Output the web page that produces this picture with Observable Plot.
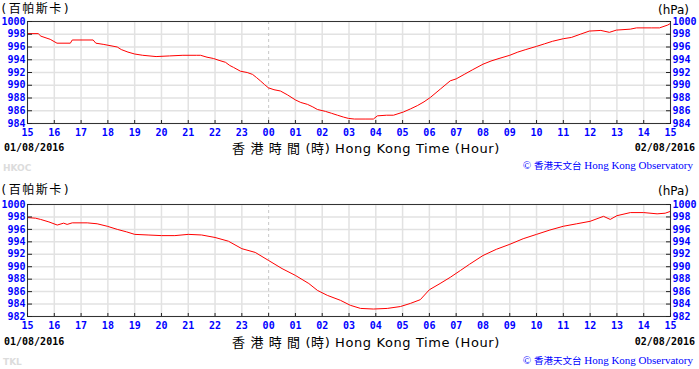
<!DOCTYPE html>
<html><head><meta charset="utf-8">
<script src="https://cdn.jsdelivr.net/npm/d3@7"></script>
<script src="https://cdn.jsdelivr.net/npm/@observablehq/plot@0.6"></script>
<style>
body{margin:0;background:#fff;}
#wrap{position:relative;width:699px;height:369px;overflow:hidden;background:#fff;}
.t{position:absolute;white-space:nowrap;line-height:1;transform:translateY(-50%);}
.unitzh{font-family:"DejaVu Sans Mono","Noto Sans CJK TC";font-size:12px;letter-spacing:1.5px;color:#000;}
.unit{font-family:"DejaVu Sans";font-size:12px;color:#000;}
.date{font-family:"DejaVu Sans Mono";font-weight:bold;font-size:10px;color:#000;}
.title{font-family:"DejaVu Sans","Noto Sans CJK TC";font-size:13px;letter-spacing:0.6px;color:#000;}
.cap{font-family:"Liberation Serif","Noto Sans CJK TC";font-size:11px;color:#0000ff;}
.cap .zh{font-size:9.5px;font-family:"Noto Sans CJK TC";}
.stn{font-family:"DejaVu Sans";font-weight:bold;font-size:9px;color:#dcdcdc;}
.panel{position:absolute;left:0;}
</style></head><body><div id="wrap"></div>
<script>
// ---- axis ticks ----
const xTicks = d3.range(15, 40);
const xTickLabels = ["15","16","17","18","19","20","21","22","23","00","01","02","03","04","05","06","07","08","09","10","11","12","13","14","15"];
const yTicksTop = [984,986,988,990,992,994,996,998,1000];
const yTicksBottom = [982,984,986,988,990,992,994,996,998,1000];

// ---- top station (HKOC): hours since 01/08 00:00 ----
const hkoHours = [15.00,15.40,15.50,15.85,16.10,16.60,16.67,17.45,17.55,17.85,18.35,18.50,18.75,19.00,19.30,19.80,20.30,20.80,21.30,21.46,21.70,21.94,22.15,22.39,22.55,22.69,22.95,23.20,23.40,23.55,23.69,23.85,23.99,24.20,24.44,24.70,25.00,25.20,25.45,25.65,25.82,26.12,26.35,26.57,26.80,26.98,27.20,27.60,27.91,28.06,28.40,28.66,29.03,29.30,29.55,29.80,30.04,30.41,30.78,31.00,31.30,31.60,32.00,32.30,32.60,33.00,33.30,33.60,34.00,34.30,34.60,35.00,35.30,35.63,35.97,36.40,36.72,36.98,37.50,37.73,38.30,38.59,38.90,39.00];
const hkoPressure = [998.1,998.1,997.7,997.2,996.6,996.6,997.1,997.1,996.6,996.4,996.0,995.6,995.2,994.9,994.7,994.5,994.6,994.7,994.7,994.7,994.4,994.2,993.9,993.6,993.1,992.8,992.2,992.0,991.7,991.2,990.7,990.1,989.6,989.3,989.1,988.5,987.7,987.3,987.0,986.6,986.2,985.9,985.6,985.3,985.0,984.8,984.7,984.7,984.7,985.2,985.3,985.3,985.8,986.3,986.8,987.4,988.1,989.4,990.7,991.0,991.7,992.4,993.3,993.8,994.2,994.7,995.2,995.6,996.1,996.5,996.9,997.3,997.5,998.0,998.5,998.6,998.3,998.65,998.8,999.0,999.0,999.0,999.45,999.7];

// ---- bottom station (TKL) ----
const tklHours = [15.00,15.30,15.49,15.80,16.11,16.35,16.48,16.67,17.23,17.60,17.98,18.35,18.70,19.00,19.50,20.00,20.50,21.00,21.50,22.00,22.50,23.00,23.50,24.00,24.50,25.00,25.50,25.82,26.19,26.68,27.05,27.43,27.91,28.43,28.92,29.29,29.66,30.00,30.40,30.78,31.16,31.50,32.00,32.50,33.00,33.50,34.00,34.50,35.00,35.50,36.00,36.50,36.75,37.00,37.50,38.00,38.50,38.80,39.00];
const tklPressure = [997.9,997.8,997.6,997.2,996.7,997.0,996.8,997.05,997.05,996.9,996.5,996.0,995.6,995.2,995.1,995.0,995.0,995.2,995.1,994.7,994.1,992.9,992.3,991.0,989.7,988.6,987.3,986.2,985.4,984.6,983.8,983.3,983.2,983.3,983.6,984.1,984.7,986.3,987.3,988.3,989.4,990.4,991.8,992.8,993.6,994.5,995.2,995.9,996.5,996.9,997.3,998.1,997.6,998.2,998.7,998.7,998.5,998.6,998.9];

const wrap = document.getElementById("wrap");

function makePanel(hours, pressure, yDomain, yTicks, top, height, mt, mb) {
  const data = hours.map((h, i) => ({h, p: pressure[i]}));
  const labelStyle = {fontFamily: "DejaVu Sans Mono", fontWeight: "bold", fontSize: 10, color: "#0000ff"};
  const chart = Plot.plot({
    width: 699, height, marginLeft: 27, marginRight: 29, marginTop: mt, marginBottom: mb,
    x: {domain: [15, 39]},
    y: {domain: yDomain},
    style: {background: "transparent", overflow: "visible"},
    marks: [
      Plot.ruleY(yTicks, {stroke: "#e2e2e2", strokeWidth: 1.5}),
      Plot.ruleX(xTicks.filter(d => d !== 24), {stroke: "#e2e2e2", strokeWidth: 1.5}),
      Plot.ruleX([24], {stroke: "#c8c8c8", strokeDasharray: "3,3"}),
      Plot.line(data, {x: "h", y: "p", stroke: "#ff0000", strokeWidth: 1}),
      Plot.frame({stroke: "#333"}),
      Plot.axisY({anchor: "left", ticks: yTicks, tickSize: 5, dx: 5, tickFormat: () => "", label: null, color: "#222"}),
      Plot.axisY({anchor: "right", ticks: yTicks, tickSize: 5, dx: -5, tickFormat: () => "", label: null, color: "#222"}),
      Plot.axisX({anchor: "bottom", ticks: xTicks, tickSize: 3, dy: -3, tickFormat: () => "", label: null, color: "#222"}),
      Plot.axisY({anchor: "left", ticks: yTicks, tickSize: 0, tickPadding: 2, label: null, tickFormat: d => String(d), ...labelStyle}),
      Plot.axisY({anchor: "right", ticks: yTicks, tickSize: 0, tickPadding: 2, label: null, tickFormat: d => String(d), ...labelStyle}),
      Plot.axisX({anchor: "bottom", ticks: xTicks, tickSize: 0, tickPadding: 5, label: null, tickFormat: (d, i) => xTickLabels[xTicks.indexOf(d)], ...labelStyle})
    ]
  });
  chart.classList.add("panel");
  chart.style.top = top + "px";
  wrap.appendChild(chart);
}

function txt(cls, s, opts) {
  const d = document.createElement("div");
  d.className = "t " + cls;
  if (opts.html) d.innerHTML = s; else d.textContent = s;
  d.style.top = opts.y + "px";
  if (opts.left !== undefined) d.style.left = opts.left + "px";
  if (opts.right !== undefined) d.style.right = (699 - opts.right) + "px";
  if (opts.center !== undefined) { d.style.left = opts.center + "px"; d.style.transform = "translate(-50%,-50%)"; }
  wrap.appendChild(d);
}

makePanel(hkoHours, hkoPressure, [984, 1000], yTicksTop, 0, 184, 21, 61);
makePanel(tklHours, tklPressure, [982, 1000], yTicksBottom, 184, 185, 20, 53);

const panels = [
  {unitY: 9, dateY: 148, capY: 165, stnY: 168, stn: "HKOC"},
  {unitY: 190, dateY: 342, capY: 360, stnY: 362, stn: "TKL"}
];
for (const p of panels) {
  txt("unitzh", "(百帕斯卡)", {left: 0, y: p.unitY});
  txt("unit", "(hPa)", {right: 689, y: p.unitY + 1});
  txt("date", "01/08/2016", {left: 4, y: p.dateY});
  txt("date", "02/08/2016", {right: 695, y: p.dateY});
  txt("title", "香 港 時 間 (時) Hong Kong Time (Hour)", {center: 366, y: p.dateY});
  txt("cap", "© <span class='zh'>香港天文台</span> Hong Kong Observatory", {right: 693, y: p.capY, html: true});
  txt("stn", p.stn, {left: 3, y: p.stnY});
}
</script></body></html>
